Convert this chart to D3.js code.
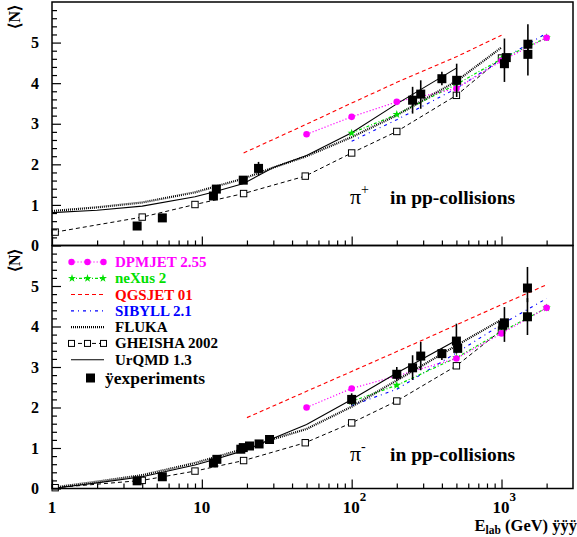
<!DOCTYPE html>
<html>
<head>
<meta charset="utf-8">
<script src="https://cdn.jsdelivr.net/npm/d3@7"></script>
<style>
  body { margin: 0; background: #fff; }
  svg { display: block; }
  text { font-family: "Liberation Serif", "Times New Roman", serif; }
</style>
</head>
<body>
<svg id="chart" width="577" height="537"></svg>
<script>
// ---- pi+ panel (top) ----
const plusDpmjetE = [50, 100, 200, 500, 1000, 2000];
const plusDpmjet = [2.74, 3.17, 3.54, 3.87, 4.55, 5.12];
const plusNexusE = [100, 200, 500, 1000, 2000];
const plusNexus = [2.77, 3.23, 3.97, 4.6, 5.12];
const plusQgsjetE = [19, 50, 100, 200, 500, 1000];
const plusQgsjet = [2.28, 2.99, 3.51, 4.02, 4.65, 5.18];
const plusSibyllE = [100, 200, 500, 1000, 2000];
const plusSibyll = [2.57, 3.1, 3.87, 4.58, 5.23];
const plusFlukaE = [1, 2, 4, 9, 19, 30, 50, 100, 200, 500, 1000];
const plusFluka = [0.85, 0.94, 1.06, 1.31, 1.65, 1.92, 2.2, 2.67, 3.21, 4.05, 4.88];
const plusGheishaE = [1.05, 4, 9, 19, 49, 100, 200, 500, 1000];
const plusGheisha = [0.33, 0.7, 1.01, 1.28, 1.71, 2.28, 2.81, 3.7, 4.62];
const plusUrqmdE = [1, 2, 4, 9, 12, 19, 30, 50, 100, 200, 500];
const plusUrqmd = [0.81, 0.87, 0.97, 1.2, 1.32, 1.53, 1.92, 2.22, 2.78, 3.49, 4.37];
const plusExpE = [3.7, 5.45, 11.95, 12.5, 18.9, 23.9, 255, 289, 400, 502, 1046, 1076, 1500, 1500];
const plusExp = [0.48, 0.68, 1.22, 1.39, 1.61, 1.9, 3.58, 3.73, 4.11, 4.07, 4.48, 4.63, 4.96, 4.71];
const plusExpLo = [0.48, 0.68, 1.22, 1.39, 1.55, 1.73, 3.25, 3.37, 3.95, 3.66, 4.03, 4.63, 4.6, 4.19];
const plusExpHi = [0.48, 0.68, 1.22, 1.39, 1.69, 2.06, 3.91, 4.07, 4.28, 4.48, 5.1, 4.63, 5.45, 4.9];

// ---- pi- panel (bottom) ----
const minusDpmjetE = [50, 100, 200, 500, 1000, 2000];
const minusDpmjet = [2.0, 2.47, 2.78, 3.21, 3.83, 4.46];
const minusNexusE = [100, 200, 500, 1000, 2000];
const minusNexus = [2.15, 2.55, 3.23, 3.87, 4.46];
const minusQgsjetE = [20, 50, 100, 200, 500, 1000, 2000];
const minusQgsjet = [1.75, 2.4, 2.89, 3.38, 4.04, 4.54, 5.03];
const minusSibyllE = [100, 200, 500, 1000, 2000];
const minusSibyll = [2.05, 2.45, 3.35, 4.05, 4.69];
const minusFlukaE = [1, 2, 4, 9, 20, 30, 50, 100, 200, 500, 1000];
const minusFluka = [0.02, 0.17, 0.33, 0.63, 1.0, 1.22, 1.47, 2.02, 2.67, 3.53, 4.17];
const minusGheishaE = [1.05, 4, 9, 19, 49, 100, 200, 500, 1000];
const minusGheisha = [0.02, 0.2, 0.43, 0.69, 1.13, 1.62, 2.16, 3.03, 3.91];
const minusUrqmdE = [1, 2, 4, 9, 12, 20, 30, 50, 100, 200, 500];
const minusUrqmd = [0.0, 0.14, 0.29, 0.58, 0.71, 0.96, 1.24, 1.58, 2.2, 2.85, 3.66];
const minusExpE = [3.7, 5.45, 11.95, 12.6, 18.2, 18.9, 20.8, 24.1, 28.3, 100, 200, 255, 289, 400, 500, 510, 1020, 1046, 1490, 1490];
const minusExp = [0.19, 0.29, 0.63, 0.72, 0.97, 1.01, 1.05, 1.1, 1.21, 2.2, 2.82, 2.98, 3.27, 3.33, 3.64, 3.46, 4.03, 4.09, 4.95, 4.24];
const minusExpLo = [0.19, 0.29, 0.63, 0.72, 0.97, 1.01, 1.05, 1.1, 1.21, 2.06, 2.66, 2.68, 2.92, 3.17, 3.33, 3.46, 4.03, 3.62, 4.6, 3.79];
const minusExpHi = [0.19, 0.29, 0.63, 0.72, 0.97, 1.01, 1.05, 1.1, 1.21, 2.35, 3.0, 3.29, 3.62, 3.46, 4.07, 3.46, 4.03, 4.48, 5.47, 4.7];

// axis ticks
const yMajor = [0, 1, 2, 3, 4, 5];
const xMajor = [1, 10, 100, 1000];
const xMinor = [2, 3, 4, 5, 6, 7, 8, 9, 20, 30, 40, 50, 60, 70, 80, 90,
  200, 300, 400, 500, 600, 700, 800, 900, 2000];

const legendNames = ["DPMJET 2.55", "neXus 2", "QGSJET 01", "SIBYLL 2.1",
  "FLUKA", "GHEISHA 2002", "UrQMD 1.3", "\u00ffexperiments"];

const fontFam = '"Liberation Serif", "Times New Roman", serif';
const svg = d3.select("#chart");

const x = d3.scaleLog().domain([1, 3000]).range([52, 573]);
const yTop = d3.scaleLinear().domain([0, 6]).range([245.5, 2]);
const yBot = d3.scaleLinear().domain([0, 6]).range([488.5, 245.5]);

// line styles for the models
const styles = {
  dpmjet: { color: "#ff00ff", dash: "1.2,2", width: 1.2 },
  nexus: { color: "#00e000", dash: "3,2,1,2", width: 1.2 },
  qgsjet: { color: "#ff0000", dash: "4,3", width: 1.1 },
  sibyll: { color: "#0000ff", dash: "3,4,1,4", width: 1.1 },
  fluka: { color: "#000", dash: "1,1", width: 2.2 },
  gheisha: { color: "#000", dash: "4,3", width: 1 },
  urqmd: { color: "#000", dash: null, width: 1.1 },
};

function zip(es, vs) {
  return es.map((e, i) => ({ e: e, v: vs[i] }));
}

function drawPanel(y, d) {
  const g = svg.append("g");

  const line = d3.line().x((p) => x(p.e)).y((p) => y(p.v));

  const series = [
    ["qgsjet", d.qgsjet],
    ["gheisha", d.gheisha],
    ["sibyll", d.sibyll],
    ["nexus", d.nexus],
    ["dpmjet", d.dpmjet],
    ["fluka", d.fluka],
    ["urqmd", d.urqmd],
  ];
  series.forEach(([key, pts]) => {
    const s = styles[key];
    g.append("path")
      .datum(pts)
      .attr("d", line)
      .attr("fill", "none")
      .attr("stroke", s.color)
      .attr("stroke-width", s.width)
      .attr("stroke-dasharray", s.dash);
  });

  // gheisha open squares
  g.selectAll(".gh")
    .data(d.gheisha)
    .enter()
    .append("rect")
    .attr("x", (p) => x(p.e) - 3.2)
    .attr("y", (p) => y(p.v) - 3.2)
    .attr("width", 6.4)
    .attr("height", 6.4)
    .attr("fill", "#fff")
    .attr("stroke", "#000")
    .attr("stroke-width", 1);

  // neXus stars
  g.selectAll(".nx")
    .data(d.nexus)
    .enter()
    .append("path")
    .attr("d", d3.symbol().type(d3.symbolStar).size(22))
    .attr("transform", (p) => `translate(${x(p.e)},${y(p.v)})`)
    .attr("fill", "#00e000");

  // dpmjet circles
  g.selectAll(".dp")
    .data(d.dpmjet)
    .enter()
    .append("circle")
    .attr("cx", (p) => x(p.e))
    .attr("cy", (p) => y(p.v))
    .attr("r", 3.3)
    .attr("fill", "#ff00ff");

  // experiments: error bars then squares
  g.selectAll(".err")
    .data(d.exp)
    .enter()
    .append("line")
    .attr("x1", (p) => x(p.e))
    .attr("x2", (p) => x(p.e))
    .attr("y1", (p) => y(p.lo))
    .attr("y2", (p) => y(p.hi))
    .attr("stroke", "#000")
    .attr("stroke-width", 1.6);
  g.selectAll(".ex")
    .data(d.exp)
    .enter()
    .append("rect")
    .attr("x", (p) => x(p.e) - 4.5)
    .attr("y", (p) => y(p.v) - 4.5)
    .attr("width", 9)
    .attr("height", 9)
    .attr("fill", "#000");

  // y ticks (inside the frame)
  const yMinor = d3.range(0, 6.01, 0.2).filter((v) => Math.abs(v - Math.round(v)) > 0.01);
  g.append("g")
    .attr("transform", "translate(52,0)")
    .call(d3.axisLeft(y).tickValues(yMinor).tickSize(-5).tickFormat(""))
    .call((a) => a.select(".domain").remove());
  g.append("g")
    .attr("transform", "translate(52,0)")
    .call(d3.axisLeft(y).tickValues(yMajor).tickSize(-9).tickPadding(13).tickFormat(d3.format("d")))
    .call((a) => a.select(".domain").remove())
    .call((a) =>
      a.selectAll("text")
        .attr("font-family", fontFam)
        .attr("font-weight", "bold")
        .attr("font-size", 16)
        .attr("fill", "#000")
    );

  // x ticks
  const y0 = y(0);
  g.append("g")
    .attr("transform", `translate(0,${y0})`)
    .call(d3.axisBottom(x).tickValues(xMinor).tickSize(-5).tickFormat(""))
    .call((a) => a.select(".domain").remove());
  g.append("g")
    .attr("transform", `translate(0,${y0})`)
    .call(d3.axisBottom(x).tickValues(xMajor).tickSize(-9).tickFormat(""))
    .call((a) => a.select(".domain").remove());
  g.selectAll(".tick line").attr("stroke-width", 1.2);

  // frame
  g.append("rect")
    .attr("x", 52)
    .attr("y", y(6))
    .attr("width", 573 - 52)
    .attr("height", y(0) - y(6))
    .attr("fill", "none")
    .attr("stroke", "#000")
    .attr("stroke-width", 1.5);

  // <N> title
  g.append("text")
    .attr("transform", `translate(20,${y(6) + 3}) rotate(-90)`)
    .attr("text-anchor", "end")
    .attr("font-weight", "bold")
    .attr("font-size", 16)
    .text("\u27e8N\u27e9");

  // pi label
  const ann = g.append("text")
    .attr("x", 350)
    .attr("y", d.labelY)
    .attr("font-size", 22);
  ann.append("tspan").text("\u03c0");
  ann.append("tspan")
    .attr("dy", -10)
    .attr("font-size", 14)
    .text(d.charge);
  g.append("text")
    .attr("x", 390)
    .attr("y", d.labelY)
    .attr("font-weight", "bold")
    .attr("font-size", 19.5)
    .text("in pp-collisions");

  return g;
}

drawPanel(yTop, {
  dpmjet: zip(plusDpmjetE, plusDpmjet),
  nexus: zip(plusNexusE, plusNexus),
  qgsjet: zip(plusQgsjetE, plusQgsjet),
  sibyll: zip(plusSibyllE, plusSibyll),
  fluka: zip(plusFlukaE, plusFluka),
  gheisha: zip(plusGheishaE, plusGheisha),
  urqmd: zip(plusUrqmdE, plusUrqmd),
  exp: plusExpE.map((e, i) => ({ e: e, v: plusExp[i], lo: plusExpLo[i], hi: plusExpHi[i] })),
  charge: "+",
  labelY: 204,
});

const bottom = drawPanel(yBot, {
  dpmjet: zip(minusDpmjetE, minusDpmjet),
  nexus: zip(minusNexusE, minusNexus),
  qgsjet: zip(minusQgsjetE, minusQgsjet),
  sibyll: zip(minusSibyllE, minusSibyll),
  fluka: zip(minusFlukaE, minusFluka),
  gheisha: zip(minusGheishaE, minusGheisha),
  urqmd: zip(minusUrqmdE, minusUrqmd),
  exp: minusExpE.map((e, i) => ({ e: e, v: minusExp[i], lo: minusExpLo[i], hi: minusExpHi[i] })),
  charge: "-",
  labelY: 461,
});

// x tick labels under the bottom panel
const xl = svg.append("g")
  .attr("font-family", fontFam)
  .attr("font-weight", "bold")
  .attr("font-size", 17);
xl.append("text").attr("x", x(1)).attr("y", 513).attr("text-anchor", "middle").text("1");
xl.append("text").attr("x", x(10)).attr("y", 513).attr("text-anchor", "middle").text("10");
[[100, "2"], [1000, "3"]].forEach(([v, p]) => {
  const t = xl.append("text").attr("x", x(v) - 9).attr("y", 513);
  t.append("tspan").text("10");
  t.append("tspan").attr("dy", -12).attr("font-size", 13).text(p);
});

// x axis title
const xt = svg.append("text")
  .attr("x", 577)
  .attr("y", 531)
  .attr("text-anchor", "end")
  .attr("font-weight", "bold")
  .attr("font-size", 16.5);
xt.append("tspan").text("E");
xt.append("tspan").attr("dy", 3).attr("font-size", 11.5).text("lab");
xt.append("tspan").attr("dy", -3).text(" (GeV) \u00ff\u00ff\u00ff");

// legend (bottom panel)
const legendKeys = ["dpmjet", "nexus", "qgsjet", "sibyll", "fluka", "gheisha", "urqmd", "exp"];
const legendColors = ["#ff00ff", "#00e000", "#ff0000", "#0000ff", "#000", "#000", "#000", "#000"];
const legendY = d3.scalePoint().domain(legendKeys).range([262, 376]);
const lg = bottom.append("g");
legendKeys.forEach((k, i) => {
  const ly = legendY(k) + (k === "exp" ? 2 : 0);
  if (k !== "exp") {
    const s = styles[k];
    lg.append("line")
      .attr("x1", 71)
      .attr("x2", 104)
      .attr("y1", ly)
      .attr("y2", ly)
      .attr("stroke", s.color)
      .attr("stroke-width", s.width)
      .attr("stroke-dasharray", s.dash);
  }
  if (k === "dpmjet") {
    [71.5, 87.5, 103.5].forEach((px) =>
      lg.append("circle").attr("cx", px).attr("cy", ly).attr("r", 3.2).attr("fill", "#ff00ff")
    );
  }
  if (k === "nexus") {
    [72, 87.5, 103].forEach((px) =>
      lg.append("path")
        .attr("d", d3.symbol().type(d3.symbolStar).size(20))
        .attr("transform", `translate(${px},${ly})`)
        .attr("fill", "#00e000")
    );
  }
  if (k === "gheisha") {
    [71.5, 87.5, 103.5].forEach((px) =>
      lg.append("rect")
        .attr("x", px - 3)
        .attr("y", ly - 3)
        .attr("width", 6)
        .attr("height", 6)
        .attr("fill", "#fff")
        .attr("stroke", "#000")
    );
  }
  if (k === "exp") {
    lg.append("rect").attr("x", 86).attr("y", ly - 4.5).attr("width", 9).attr("height", 9).attr("fill", "#000");
  }
  lg.append("text")
    .attr("x", k === "exp" ? 105 : 115)
    .attr("y", ly)
    .attr("dy", "0.33em")
    .attr("font-weight", "bold")
    .attr("font-size", k === "exp" ? 17.5 : 15)
    .attr("fill", legendColors[i])
    .text(legendNames[i]);
});
</script>
</body>
</html>
